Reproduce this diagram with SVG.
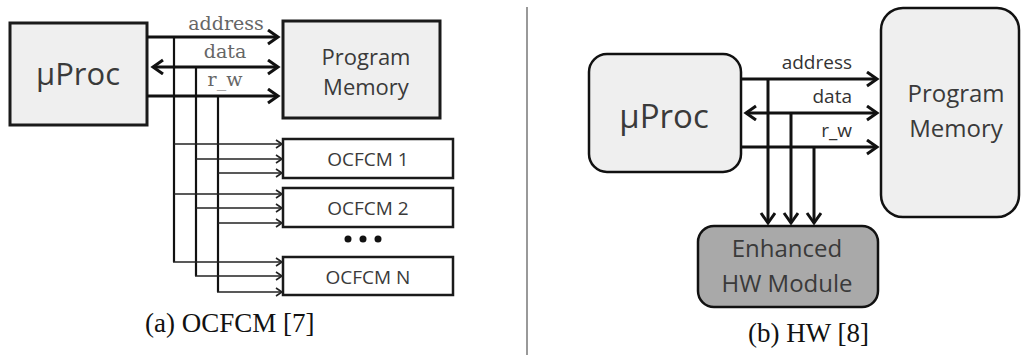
<svg xmlns="http://www.w3.org/2000/svg" width="1022" height="356" viewBox="0 0 1022 356">
  <style>
    .box { fill: #efefef; stroke: #1a1a1a; stroke-width: 3; }
    .rbox { fill: #efefef; stroke: #111; stroke-width: 2.5; }
    .hw { fill: #a9a9a9; stroke: #111; stroke-width: 2.5; }
    .sub { fill: #ffffff; stroke: #1a1a1a; stroke-width: 2.5; }
    .lbl { font-family: "Open Sans", "Liberation Sans", sans-serif; fill: #3a3a3a; text-anchor: middle; }
    .sig { font-family: "DejaVu Serif", "Liberation Serif", serif; font-size: 19px; fill: #666; text-anchor: middle; }
    .rsig { font-family: "Open Sans", "Liberation Sans", sans-serif; font-size: 19px; fill: #333; text-anchor: end; }
    .cap { font-family: "Liberation Serif", "DejaVu Serif", serif; font-size: 27px; fill: #111; }
    .bus { stroke: #111; stroke-width: 3; fill: none; }
    .tap { stroke: #111; stroke-width: 2.2; fill: none; }
    .br { stroke: #222; stroke-width: 1.6; fill: none; }
  </style>
  <defs>
    <marker id="big" markerUnits="userSpaceOnUse" markerWidth="20" markerHeight="20" refX="12" refY="8" viewBox="0 0 20 20" orient="auto-start-reverse">
      <path d="M2,1 L12,8 L2,15" fill="none" stroke="#111" stroke-width="3"/>
    </marker>
    <marker id="small" markerUnits="userSpaceOnUse" markerWidth="12" markerHeight="12" refX="7" refY="5" viewBox="0 0 12 12" orient="auto">
      <path d="M1,1 L7,5 L1,9" fill="none" stroke="#222" stroke-width="1.6"/>
    </marker>
  </defs>

  <!-- left: processor with shared bus to program memory and OCFCM blocks -->
  <g id="a-uproc">
    <rect class="box" x="10" y="23" width="137" height="102"/>
    <text class="lbl" x="78" y="85" font-size="31">µProc</text>
  </g>
  <g id="a-progmem">
    <rect class="box" x="283" y="21" width="157" height="97"/>
    <text class="lbl" x="366" y="65" font-size="22">Program</text>
    <text class="lbl" x="366" y="95" font-size="22">Memory</text>
  </g>
  <g id="a-ocfcm1">
    <rect class="sub" x="283" y="139" width="170" height="39"/>
    <text class="lbl" x="368" y="166" font-size="19" fill="#555">OCFCM 1</text>
  </g>
  <g id="a-ocfcm2">
    <rect class="sub" x="283" y="188" width="170" height="39"/>
    <text class="lbl" x="368" y="215" font-size="19" fill="#555">OCFCM 2</text>
  </g>
  <g id="a-ellipsis">
    <circle cx="348" cy="239" r="3.5" fill="#111"/>
    <circle cx="363" cy="239" r="3.5" fill="#111"/>
    <circle cx="378" cy="239" r="3.5" fill="#111"/>
  </g>
  <g id="a-ocfcmn">
    <rect class="sub" x="283" y="257" width="170" height="38"/>
    <text class="lbl" x="368" y="284" font-size="19" fill="#555">OCFCM N</text>
  </g>

  <g id="a-connectors">
    <line class="bus" x1="147" y1="37" x2="278" y2="37" marker-end="url(#big)"/>
    <line class="bus" x1="153" y1="67" x2="278" y2="67" marker-start="url(#big)" marker-end="url(#big)"/>
    <line class="bus" x1="147" y1="96" x2="278" y2="96" marker-end="url(#big)"/>
    <text class="sig" x="226" y="30">address</text>
    <text class="sig" x="225" y="58">data</text>
    <text class="sig" x="225" y="86">r_w</text>
    <!-- bus taps -->
    <polyline class="tap" points="174,37 174,262"/>
    <polyline class="tap" points="196,67 196,276"/>
    <polyline class="tap" points="218,96 218,292"/>
    <!-- branches into each OCFCM -->
    <line class="br" x1="174" y1="144" x2="282" y2="144" marker-end="url(#small)"/>
    <line class="br" x1="196" y1="159" x2="282" y2="159" marker-end="url(#small)"/>
    <line class="br" x1="218" y1="173" x2="282" y2="173" marker-end="url(#small)"/>
    <line class="br" x1="174" y1="194" x2="282" y2="194" marker-end="url(#small)"/>
    <line class="br" x1="196" y1="208" x2="282" y2="208" marker-end="url(#small)"/>
    <line class="br" x1="218" y1="223" x2="282" y2="223" marker-end="url(#small)"/>
    <line class="br" x1="173" y1="262" x2="282" y2="262" marker-end="url(#small)"/>
    <line class="br" x1="195" y1="276" x2="282" y2="276" marker-end="url(#small)"/>
    <line class="br" x1="217" y1="292" x2="282" y2="292" marker-end="url(#small)"/>
  </g>
  <text class="cap" x="145" y="332">(a) OCFCM [7]</text>

  <!-- divider -->
  <line x1="527" y1="7" x2="527" y2="355" stroke="#555" stroke-width="1.2"/>

  <!-- right: processor with enhanced hardware module snooping the bus -->
  <g id="b-uproc">
    <rect class="rbox" x="589" y="54" width="152" height="118" rx="18" ry="18"/>
    <text class="lbl" x="664" y="128" font-size="33">µProc</text>
  </g>
  <g id="b-progmem">
    <rect class="rbox" x="881" y="8" width="138" height="209" rx="22" ry="22"/>
    <text class="lbl" x="956" y="102" font-size="24">Program</text>
    <text class="lbl" x="956" y="137" font-size="24">Memory</text>
  </g>
  <g id="b-hw">
    <rect class="hw" x="698" y="226" width="180" height="81" rx="16" ry="16"/>
    <text class="lbl" x="787" y="257" font-size="24" fill="#2a2a2a">Enhanced</text>
    <text class="lbl" x="787" y="292" font-size="24" fill="#2a2a2a">HW Module</text>
  </g>

  <g id="b-connectors">
    <line class="bus" x1="741" y1="79" x2="877" y2="79" marker-end="url(#big)"/>
    <line class="bus" x1="746" y1="113" x2="877" y2="113" marker-start="url(#big)" marker-end="url(#big)"/>
    <line class="bus" x1="741" y1="147" x2="877" y2="147" marker-end="url(#big)"/>
    <text class="rsig" x="852" y="69">address</text>
    <text class="rsig" x="852" y="103">data</text>
    <text class="rsig" x="852" y="137">r_w</text>
    <line class="bus" x1="768" y1="79" x2="768" y2="223" marker-end="url(#big)"/>
    <line class="bus" x1="791" y1="113" x2="791" y2="223" marker-end="url(#big)"/>
    <line class="bus" x1="814" y1="147" x2="814" y2="223" marker-end="url(#big)"/>
  </g>
  <text class="cap" x="748" y="342">(b) HW [8]</text>
</svg>
